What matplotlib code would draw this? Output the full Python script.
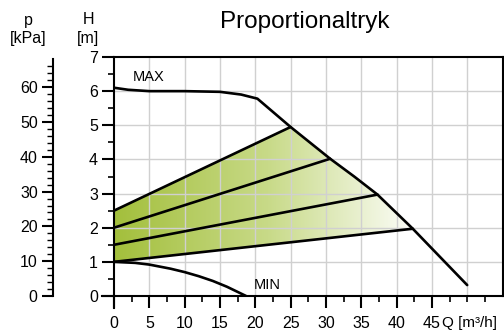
import numpy as np
import matplotlib
matplotlib.use("Agg")
import matplotlib.pyplot as plt
from matplotlib.patches import Polygon
from matplotlib.colors import LinearSegmentedColormap

plt.rcParams['font.family'] = ['Liberation Sans', 'DejaVu Sans']

# Data
max_q = [0, 2, 5, 10, 15, 18, 20.3, 25, 30.6, 34, 37.3, 42.3, 50]
max_h = [6.1, 6.04, 6.0, 6.0, 5.98, 5.9, 5.78, 4.95, 4.02, 3.5, 2.97, 1.97, 0.32]
min_q = [0, 3, 5, 8, 10, 12, 14, 16, 18.7]
min_h = [1.0, 0.97, 0.92, 0.8, 0.7, 0.58, 0.44, 0.27, 0.0]
prop_start_h = [2.5, 2.0, 1.5, 1.0]
prop_end_q = [25, 30.6, 37.3, 42.3]
prop_end_h = [4.95, 4.02, 2.97, 1.97]
x_ticks = [0, 5, 10, 15, 20, 25, 30, 35, 40, 45]
y_ticks = [0, 1, 2, 3, 4, 5, 6, 7]
p_ticks = [0, 10, 20, 30, 40, 50, 60]

W, H = 504, 331
fig = plt.figure(figsize=(W/100, H/100), dpi=100)
x0, x1 = 114, 502.5
y0, y1 = 296, 57
ax = fig.add_axes([x0/W, 1 - y0/H, (x1-x0)/W, (y0-y1)/H])
ax.set_xlim(0, 55)
ax.set_ylim(0, 7)

FS = 11.5

# gradient fill region
poly_pts = [(0, prop_start_h[3]), (prop_end_q[3], prop_end_h[3])] + \
    [(q, h) for q, h in zip(reversed(max_q), reversed(max_h)) if prop_end_q[0] <= q < prop_end_q[3]] + \
    [(0, prop_start_h[0])]
poly = Polygon(poly_pts, closed=True, facecolor='none', edgecolor='none')
ax.add_patch(poly)
cmap = LinearSegmentedColormap.from_list('g', ['#a3bf3c', '#c8da88', '#ffffff'])
grad = np.linspace(0, 1, 256).reshape(1, -1)
im = ax.imshow(grad, extent=[0, 43.5, 0, 7], aspect='auto', cmap=cmap,
               origin='lower', zorder=1, interpolation='bilinear')
im.set_clip_path(poly)

# grid
for gx in range(5, 55, 5):
    ax.axvline(gx, color='#d0d0d0', lw=1, zorder=2)
for gy in range(1, 7):
    ax.axhline(gy, color='#d0d0d0', lw=1, zorder=2)

# curves
lw = 1.9
ax.plot(max_q, max_h, color='black', lw=lw, zorder=4, solid_capstyle='round')
ax.plot(min_q, min_h, color='black', lw=lw, zorder=4, solid_capstyle='round')
for sh, eq, eh in zip(prop_start_h, prop_end_q, prop_end_h):
    ax.plot([0, eq], [sh, eh], color='black', lw=lw, zorder=4, solid_capstyle='round')

ax.text(2.7, 6.41, 'MAX', fontsize=10.5, va='center', ha='left')
ax.text(19.8, 0.32, 'MIN', fontsize=10.5, va='center', ha='left')

# spines
for s in ['left', 'bottom', 'top', 'right']:
    ax.spines[s].set_linewidth(1.5)
    ax.spines[s].set_zorder(5)
ax.plot([0, 0], [-0.35, 0], color='black', lw=1.5, clip_on=False, zorder=5)
ax.plot([-1.7, 0], [0, 0], color='black', lw=1.5, clip_on=False, zorder=5)

ax.set_xticks(x_ticks)
ax.set_xticklabels([str(v) for v in x_ticks])
ax.set_xticks(np.arange(2.5, 55, 2.5), minor=True)
ax.set_yticks(y_ticks)
ax.set_yticklabels([str(v) for v in y_ticks])
ax.set_yticks(np.arange(0.5, 7, 1.0), minor=True)
ax.tick_params(axis='both', which='major', direction='out', length=8.5, width=1.5,
               labelsize=FS, pad=3)
ax.tick_params(axis='both', which='minor', direction='out', length=4.5, width=1.2)
ax.tick_params(axis='x', which='major', pad=6)
ax.tick_params(axis='x', which='both', top=False)
ax.tick_params(axis='y', which='both', right=False)
ax.text(46.45, -0.8, 'Q [m³/h]', fontsize=11, ha='left', va='center')

# pressure axis
px = 53
axp = fig.add_axes([px/W, 1 - y0/H, 0.0001, (y0-y1)/H])
axp.set_ylim(0, 7 * 9.81)
axp.set_xlim(0, 1)
for s in ['right', 'top', 'bottom']:
    axp.spines[s].set_visible(False)
axp.spines['left'].set_linewidth(1.5)
axp.spines['left'].set_bounds(0, 68)
axp.patch.set_visible(False)
axp.set_xticks([])
axp.set_yticks(p_ticks)
axp.set_yticklabels([str(v) for v in p_ticks])
axp.set_yticks(np.arange(2, 68, 2), minor=True)
axp.tick_params(axis='y', which='major', direction='out', length=8, width=1.5, labelsize=FS, pad=3)
axp.tick_params(axis='y', which='minor', direction='out', length=4, width=1.0)

fig.text(28/W, 1 - 20/H, 'p', fontsize=FS, ha='center', va='center')
fig.text(28/W, 1 - 38/H, '[kPa]', fontsize=FS, ha='center', va='center')
fig.text(88/W, 1 - 20/H, 'H', fontsize=FS, ha='center', va='center')
fig.text(88/W, 1 - 38/H, '[m]', fontsize=FS, ha='center', va='center')
fig.text(304.5/W, 1 - 22/H, 'Proportionaltryk', fontsize=17.5, ha='center', va='center')

fig.savefig('out.png', dpi=100)
